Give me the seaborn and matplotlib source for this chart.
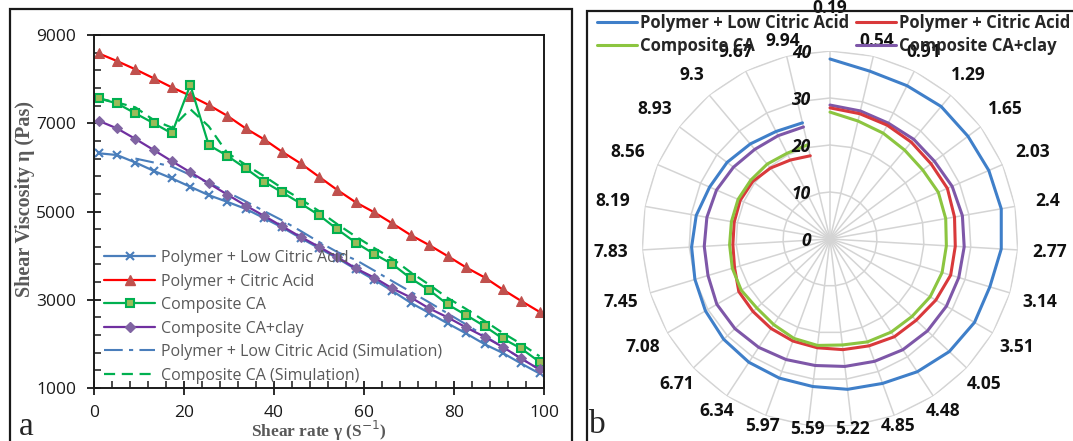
import numpy as np
import pandas as pd
import matplotlib
matplotlib.use("Agg")
import matplotlib.pyplot as plt
import matplotlib.transforms as mtransforms
from matplotlib.lines import Line2D
from matplotlib.patches import Rectangle
import seaborn as sns

# ---------------- data: panel a ----------------
shear_rate = [1.0, 5.1, 9.2, 13.3, 17.3, 21.4, 25.5, 29.6, 33.7, 37.8, 41.8, 45.9, 50.0,
              54.1, 58.2, 62.3, 66.3, 70.4, 74.5, 78.6, 82.7, 86.8, 90.8, 94.9, 99.0]
low_citric = [6320, 6280, 6110, 5920, 5750, 5560, 5370, 5220, 5060, 4850, 4640, 4400, 4170,
              3940, 3690, 3450, 3200, 2930, 2700, 2463, 2236, 1993, 1796, 1556, 1329]
citric = [8585, 8410, 8222, 8018, 7814, 7624, 7413, 7170, 6884, 6635, 6354, 6091, 5787,
          5485, 5206, 4980, 4730, 4465, 4238, 3989, 3732, 3506, 3234, 2975, 2726]
composite_ca = [7565, 7451, 7224, 6998, 6771, 7866, 6506, 6263, 5977, 5674, 5435, 5184, 4918,
                4594, 4291, 4034, 3807, 3483, 3218, 2893, 2651, 2401, 2122, 1896, 1592]
composite_clay = [7057, 6884, 6645, 6392, 6140, 5890, 5637, 5385, 5135, 4900, 4665, 4426, 4200,
                  3965, 3710, 3500, 3256, 3052, 2803, 2599, 2372, 2159, 1932, 1669, 1420]
sim_rate_low = shear_rate[2:]
low_citric_sim = [6200, 6110, 6020, 5830, 5650, 5440, 5230, 5010, 4800, 4560, 4310, 4080,
                  3900, 3660, 3420, 3180, 2940, 2690, 2440, 2180, 1930, 1670, 1420]
composite_ca_sim = [7565, 7470, 7360, 7070, 6900, 7320, 6930, 6330, 6060, 5800, 5530, 5280, 5010,
                    4710, 4430, 4170, 3930, 3620, 3340, 3040, 2790, 2520, 2250, 2000, 1720]

legend_a = ["Polymer + Low Citric Acid", "Polymer + Citric Acid", "Composite CA",
            "Composite CA+clay", "Polymer + Low Citric Acid (Simulation)",
            "Composite CA (Simulation)"]

# ---------------- data: panel b (radar) ----------------
radar_cats = ["0.19", "0.54", "0.91", "1.29", "1.65", "2.03", "2.4", "2.77", "3.14", "3.51",
              "4.05", "4.48", "4.85", "5.22", "5.59", "5.97", "6.34", "6.71", "7.08", "7.45",
              "7.83", "8.19", "8.56", "8.93", "9.3", "9.67", "9.94"]
radar_low_citric = [38.3, 36.7, 36.5, 36.8, 36.6, 36.8, 37.0, 36.5, 35.5, 35.5, 34.9, 33.8, 32.7,
                    32.2, 31.6, 31.5, 31.4, 31.1, 30.6, 30.0, 29.5, 28.9, 27.9, 27.3, 26.4, 25.6, 25.4]
radar_citric = [27.9, 27.4, 27.1, 26.9, 26.8, 27.2, 26.9, 26.7, 26.8, 26.0, 25.2, 24.9, 24.2,
                23.7, 23.3, 23.1, 22.8, 22.5, 22.4, 21.2, 20.7, 20.7, 20.8, 20.5, 19.7, 18.8, 18.2]
radar_composite = [27.0, 25.8, 25.2, 24.7, 24.6, 25.1, 25.0, 24.8, 24.9, 24.6, 24.0, 23.7, 23.3,
                   22.7, 22.8, 22.5, 21.8, 21.4, 21.8, 21.7, 21.4, 21.3, 21.3, 21.0, 20.8, 20.4, 20.6]
radar_clay = [28.5, 28.0, 27.6, 27.7, 27.7, 28.3, 28.6, 28.6, 28.6, 28.6, 28.5, 28.2, 27.7,
              27.3, 27.1, 27.3, 27.6, 27.8, 27.8, 27.1, 26.8, 26.6, 26.3, 25.6, 24.9, 24.6, 24.5]
radar_ticks = [0, 10, 20, 30, 40]
legend_b = ["Polymer + Low Citric Acid", "Polymer + Citric Acid", "Composite CA", "Composite CA+clay"]

# ---------------- figure ----------------
sns.set_theme(style="white")
plt.rcParams["font.family"] = ["Open Sans", "DejaVu Sans"]
W, H = 1073, 441
fig = plt.figure(figsize=(W / 100, H / 100), dpi=100)

def fx(px):
    return px / W

def fy(py):
    return 1 - py / H

# panel frames
fig.patches.append(Rectangle((fx(10), fy(445)), fx(572) - fx(10), fy(9) - fy(445),
                             transform=fig.transFigure, fill=False, lw=1.6, ec="#1a1a1a"))
fig.patches.append(Rectangle((fx(587), fy(445)), fx(1080) - fx(587), fy(11) - fy(445),
                             transform=fig.transFigure, fill=False, lw=1.6, ec="#1a1a1a"))

# ---------------- panel a ----------------
ax = fig.add_axes([fx(94), fy(388), fx(544) - fx(94), fy(35) - fy(388)])
c_blue, c_red, c_green, c_purple = "#4A7EBB", "#FF0000", "#00B050", "#7030A0"

sns.lineplot(x=sim_rate_low, y=low_citric_sim, ax=ax, color=c_blue, lw=1.5, legend=False)
ax.lines[-1].set_dashes([9, 3, 2, 3])
sns.lineplot(x=shear_rate, y=composite_ca_sim, ax=ax, color=c_green, lw=1.6, legend=False)
ax.lines[-1].set_dashes([5, 3])

style_blue = dict(color=c_blue, lw=1.6, marker="x", markersize=6, mew=1.5, mec=c_blue)
style_red = dict(color=c_red, lw=1.6, marker="^", markersize=7, mfc="#C0504D", mec="#C0504D")
style_green = dict(color=c_green, lw=1.6, marker="s", markersize=6, mfc="#9BBB59", mec=c_green, mew=1.5)
style_purple = dict(color=c_purple, lw=1.6, marker="D", markersize=5, mfc="#8064A2", mec="#8064A2")

sns.lineplot(x=shear_rate, y=low_citric, ax=ax, legend=False, **style_blue)
sns.lineplot(x=shear_rate, y=citric, ax=ax, legend=False, **style_red)
sns.lineplot(x=shear_rate, y=composite_ca, ax=ax, legend=False, **style_green)
sns.lineplot(x=shear_rate, y=composite_clay, ax=ax, legend=False, **style_purple)

ax.set_xlim(0, 100)
ax.set_ylim(1000, 9000)
ax.set_xticks([0, 20, 40, 60, 80, 100])
ax.set_xticks(np.arange(0, 101, 4), minor=True)
ax.set_yticks([1000, 3000, 5000, 7000, 9000])
ax.set_yticks(np.arange(1000, 9001, 400), minor=True)
ax.tick_params(which="major", direction="inout", length=10, width=1.3, color="#1a1a1a",
               labelsize=12.5, labelcolor="#1a1a1a", left=True, bottom=True)
ax.tick_params(which="minor", direction="in", length=5, width=1.1, color="#1a1a1a",
               left=True, bottom=True)
ax.tick_params(axis="x", which="major", pad=7)
ax.tick_params(axis="y", which="major", pad=8)
for sp in ax.spines.values():
    sp.set_visible(True)
    sp.set_color("#1a1a1a")
    sp.set_linewidth(1.4)
ax.grid(False)

serif = ["Liberation Serif", "DejaVu Serif"]
ax.set_xlabel("Shear rate γ (S$^{-1}$)", family=serif, fontweight="bold", fontsize=12.5,
              color="#595959")
ax.xaxis.set_label_coords(0.5, -0.087)
ax.set_ylabel("Shear Viscosity η (Pas)", family=serif, fontweight="bold", fontsize=14.5,
              color="#595959")
ax.yaxis.set_label_coords(-0.131, 0.535)

handles_a = [
    Line2D([], [], **style_blue),
    Line2D([], [], **style_red),
    Line2D([], [], **style_green),
    Line2D([], [], **style_purple),
    Line2D([], [], color=c_blue, lw=1.5, dashes=[9, 3, 2, 3]),
    Line2D([], [], color=c_green, lw=1.6, dashes=[5, 3]),
]
leg_a = ax.legend(handles_a, legend_a, loc="upper left",
                  bbox_to_anchor=(fx(104), fy(250)), bbox_transform=fig.transFigure,
                  frameon=False, fontsize=11.5, handlelength=3.2, handletextpad=0.35,
                  labelspacing=0.47, borderaxespad=0, borderpad=0)
for t in leg_a.get_texts():
    t.set_color("#595959")

fig.text(fx(26), fy(427), "a", family=serif, fontsize=24,
         color="#262626", ha="center", va="center")

# ---------------- panel b (radar) ----------------
R = 188.0  # px radius of the 40 ring
cx, cy = 830, 239
axr = fig.add_axes([fx(cx - R), fy(cy + R), 2 * R / W, 2 * R / H], projection="polar")
axr.set_theta_zero_location("N")
axr.set_theta_direction(-1)
axr.set_ylim(0, 40)
axr.grid(False)
axr.spines["polar"].set_visible(False)
axr.set_xticks([])
axr.set_yticks([])
axr.patch.set_alpha(0)

n = len(radar_cats)
theta = np.deg2rad(np.arange(n) * 360.0 / n)
theta_c = np.append(theta, theta[0])
grid_c = "#d4d4d4"
for t in theta:
    axr.plot([t, t], [0, 40], color=grid_c, lw=1.1, zorder=1)
for rr in radar_ticks[1:]:
    axr.plot(theta_c, [rr] * (n + 1), color=grid_c, lw=1.1, zorder=1)

rb_blue, rb_red, rb_green, rb_purple = "#3F7FC9", "#D9393B", "#8CC540", "#7E57A8"
for vals, col in [(radar_low_citric, rb_blue), (radar_clay, rb_purple),
                  (radar_citric, rb_red), (radar_composite, rb_green)]:
    df = pd.DataFrame({"theta": theta_c, "r": np.append(vals, vals[0])})
    sns.lineplot(data=df, x="theta", y="r", sort=False, ax=axr, color=col, lw=2.2,
                 legend=False, zorder=3)
axr.set_xlabel("")
axr.set_ylabel("")
axr.set_ylim(0, 40)

# category labels
px_per_unit = R / 40.0
for i, (t, lab) in enumerate(zip(theta, radar_cats)):
    s, c = np.sin(t), np.cos(t)
    rpx = 188 + abs(s) * 32 + max(c, 0) * 8
    if i == 0:
        rpx = 231
    axr.text(t, rpx / px_per_unit, lab, ha="center", va="center", fontsize=12.5,
             fontweight="bold", color="#111111", clip_on=False, zorder=5)

# radial tick labels
off = mtransforms.offset_copy(axr.transData, fig=fig, x=-19, y=-2, units="dots")
for rr in radar_ticks:
    axr.text(0, rr, str(rr), transform=off, ha="right", va="center", fontsize=12.5,
             fontweight="bold", style="italic", color="#111111", zorder=5)

handles_b = [Line2D([], [], color=rb_blue, lw=2.2), Line2D([], [], color=rb_green, lw=2.2),
             Line2D([], [], color=rb_red, lw=2.2), Line2D([], [], color=rb_purple, lw=2.2)]
labels_b = [legend_b[0], legend_b[2], legend_b[1], legend_b[3]]
leg_b = fig.legend(handles_b, labels_b, ncol=2, loc="upper left",
                   bbox_to_anchor=(fx(597), fy(14)), frameon=False,
                   prop={"weight": "bold", "size": 12}, handlelength=2.4,
                   handletextpad=0.15, columnspacing=0.45, labelspacing=0.3,
                   borderaxespad=0, borderpad=0)

fig.text(fx(597), fy(425), "b", family=serif, fontsize=24,
         color="#262626", ha="center", va="center")

fig.savefig("out.png", dpi=100)
